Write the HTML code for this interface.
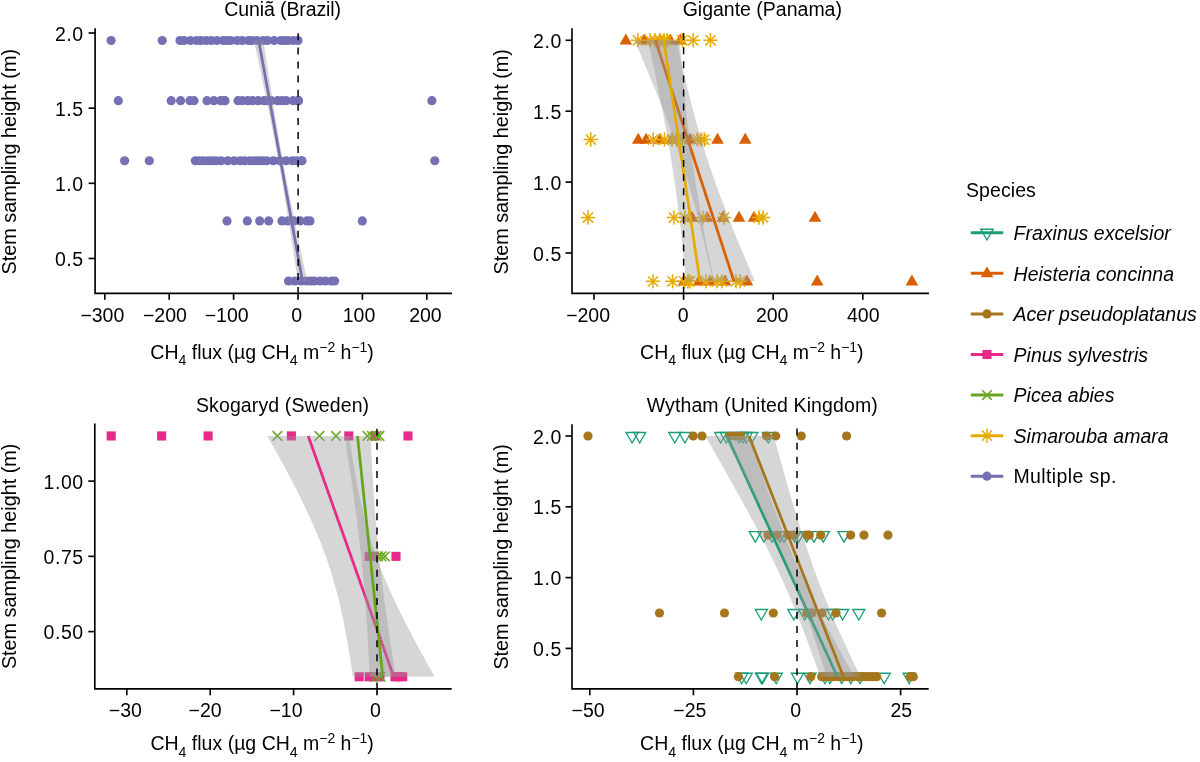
<!DOCTYPE html>
<html><head><meta charset="utf-8"><style>
html,body{margin:0;padding:0;background:#fff;}
svg{display:block;}
text{font-family:"Liberation Sans", sans-serif;font-size:19.5px;fill:#000;}
</style></head><body>
<svg width="1200" height="762" viewBox="0 0 1200 762">
<rect width="1200" height="762" fill="#fff"/>
<g style="opacity:0.999">
<circle cx="111.1" cy="40.52" r="4.6" fill="#7570B3"/><circle cx="162.2" cy="40.52" r="4.6" fill="#7570B3"/><circle cx="180" cy="40.52" r="4.6" fill="#7570B3"/><circle cx="183.97" cy="40.52" r="4.6" fill="#7570B3"/><circle cx="190.44" cy="40.52" r="4.6" fill="#7570B3"/><circle cx="196.61" cy="40.52" r="4.6" fill="#7570B3"/><circle cx="201" cy="40.52" r="4.6" fill="#7570B3"/><circle cx="206.24" cy="40.52" r="4.6" fill="#7570B3"/><circle cx="211.31" cy="40.52" r="4.6" fill="#7570B3"/><circle cx="217.09" cy="40.52" r="4.6" fill="#7570B3"/><circle cx="223.35" cy="40.52" r="4.6" fill="#7570B3"/><circle cx="227.18" cy="40.52" r="4.6" fill="#7570B3"/><circle cx="230.78" cy="40.52" r="4.6" fill="#7570B3"/><circle cx="237.2" cy="40.52" r="4.6" fill="#7570B3"/><circle cx="242.22" cy="40.52" r="4.6" fill="#7570B3"/><circle cx="248.39" cy="40.52" r="4.6" fill="#7570B3"/><circle cx="251.89" cy="40.52" r="4.6" fill="#7570B3"/><circle cx="256.95" cy="40.52" r="4.6" fill="#7570B3"/><circle cx="262.98" cy="40.52" r="4.6" fill="#7570B3"/><circle cx="267.28" cy="40.52" r="4.6" fill="#7570B3"/><circle cx="274.09" cy="40.52" r="4.6" fill="#7570B3"/><circle cx="280.74" cy="40.52" r="4.6" fill="#7570B3"/><circle cx="284.35" cy="40.52" r="4.6" fill="#7570B3"/><circle cx="287.94" cy="40.52" r="4.6" fill="#7570B3"/><circle cx="293.33" cy="40.52" r="4.6" fill="#7570B3"/><circle cx="298" cy="40.52" r="4.6" fill="#7570B3"/><circle cx="118.3" cy="100.64" r="4.6" fill="#7570B3"/><circle cx="171.2" cy="100.64" r="4.6" fill="#7570B3"/><circle cx="180.6" cy="100.64" r="4.6" fill="#7570B3"/><circle cx="190" cy="100.64" r="4.6" fill="#7570B3"/><circle cx="194" cy="100.64" r="4.6" fill="#7570B3"/><circle cx="207" cy="100.64" r="4.6" fill="#7570B3"/><circle cx="213.85" cy="100.64" r="4.6" fill="#7570B3"/><circle cx="220.66" cy="100.64" r="4.6" fill="#7570B3"/><circle cx="224.36" cy="100.64" r="4.6" fill="#7570B3"/><circle cx="225" cy="100.64" r="4.6" fill="#7570B3"/><circle cx="238" cy="100.64" r="4.6" fill="#7570B3"/><circle cx="242.33" cy="100.64" r="4.6" fill="#7570B3"/><circle cx="247.74" cy="100.64" r="4.6" fill="#7570B3"/><circle cx="252.53" cy="100.64" r="4.6" fill="#7570B3"/><circle cx="258.15" cy="100.64" r="4.6" fill="#7570B3"/><circle cx="263.84" cy="100.64" r="4.6" fill="#7570B3"/><circle cx="267.57" cy="100.64" r="4.6" fill="#7570B3"/><circle cx="271.11" cy="100.64" r="4.6" fill="#7570B3"/><circle cx="277.54" cy="100.64" r="4.6" fill="#7570B3"/><circle cx="281.95" cy="100.64" r="4.6" fill="#7570B3"/><circle cx="286.27" cy="100.64" r="4.6" fill="#7570B3"/><circle cx="293.26" cy="100.64" r="4.6" fill="#7570B3"/><circle cx="298.4" cy="100.64" r="4.6" fill="#7570B3"/><circle cx="298.5" cy="100.64" r="4.6" fill="#7570B3"/><circle cx="431.9" cy="100.64" r="4.6" fill="#7570B3"/><circle cx="124.6" cy="160.76" r="4.6" fill="#7570B3"/><circle cx="149.3" cy="160.76" r="4.6" fill="#7570B3"/><circle cx="195.3" cy="160.76" r="4.6" fill="#7570B3"/><circle cx="199.63" cy="160.76" r="4.6" fill="#7570B3"/><circle cx="203.49" cy="160.76" r="4.6" fill="#7570B3"/><circle cx="208.37" cy="160.76" r="4.6" fill="#7570B3"/><circle cx="212.42" cy="160.76" r="4.6" fill="#7570B3"/><circle cx="216.15" cy="160.76" r="4.6" fill="#7570B3"/><circle cx="221.05" cy="160.76" r="4.6" fill="#7570B3"/><circle cx="227.77" cy="160.76" r="4.6" fill="#7570B3"/><circle cx="234.07" cy="160.76" r="4.6" fill="#7570B3"/><circle cx="240.25" cy="160.76" r="4.6" fill="#7570B3"/><circle cx="244.52" cy="160.76" r="4.6" fill="#7570B3"/><circle cx="249.9" cy="160.76" r="4.6" fill="#7570B3"/><circle cx="254.37" cy="160.76" r="4.6" fill="#7570B3"/><circle cx="258.47" cy="160.76" r="4.6" fill="#7570B3"/><circle cx="262.35" cy="160.76" r="4.6" fill="#7570B3"/><circle cx="266.6" cy="160.76" r="4.6" fill="#7570B3"/><circle cx="273.34" cy="160.76" r="4.6" fill="#7570B3"/><circle cx="279.74" cy="160.76" r="4.6" fill="#7570B3"/><circle cx="286.07" cy="160.76" r="4.6" fill="#7570B3"/><circle cx="292.37" cy="160.76" r="4.6" fill="#7570B3"/><circle cx="296.55" cy="160.76" r="4.6" fill="#7570B3"/><circle cx="301.13" cy="160.76" r="4.6" fill="#7570B3"/><circle cx="302" cy="160.76" r="4.6" fill="#7570B3"/><circle cx="434.8" cy="160.76" r="4.6" fill="#7570B3"/><circle cx="227" cy="220.88" r="4.6" fill="#7570B3"/><circle cx="247.3" cy="220.88" r="4.6" fill="#7570B3"/><circle cx="259.7" cy="220.88" r="4.6" fill="#7570B3"/><circle cx="268.7" cy="220.88" r="4.6" fill="#7570B3"/><circle cx="282" cy="220.88" r="4.6" fill="#7570B3"/><circle cx="287.68" cy="220.88" r="4.6" fill="#7570B3"/><circle cx="293.78" cy="220.88" r="4.6" fill="#7570B3"/><circle cx="300.06" cy="220.88" r="4.6" fill="#7570B3"/><circle cx="306.86" cy="220.88" r="4.6" fill="#7570B3"/><circle cx="310" cy="220.88" r="4.6" fill="#7570B3"/><circle cx="362.3" cy="220.88" r="4.6" fill="#7570B3"/><circle cx="288.5" cy="281" r="4.6" fill="#7570B3"/><circle cx="294.78" cy="281" r="4.6" fill="#7570B3"/><circle cx="301.15" cy="281" r="4.6" fill="#7570B3"/><circle cx="306.35" cy="281" r="4.6" fill="#7570B3"/><circle cx="310.77" cy="281" r="4.6" fill="#7570B3"/><circle cx="314.27" cy="281" r="4.6" fill="#7570B3"/><circle cx="320.09" cy="281" r="4.6" fill="#7570B3"/><circle cx="325.23" cy="281" r="4.6" fill="#7570B3"/><circle cx="331.39" cy="281" r="4.6" fill="#7570B3"/><circle cx="334.6" cy="281" r="4.6" fill="#7570B3"/><path d="M253.98 40.52L254.83 44.52L255.68 48.53L256.53 52.54L257.38 56.55L258.23 60.56L259.07 64.56L259.92 68.57L260.76 72.58L261.6 76.59L262.44 80.59L263.28 84.6L264.11 88.61L264.94 92.62L265.77 96.63L266.6 100.64L267.42 104.64L268.24 108.65L269.05 112.66L269.86 116.67L270.67 120.68L271.47 124.68L272.26 128.69L273.05 132.7L273.83 136.71L274.61 140.72L275.38 144.72L276.14 148.73L276.89 152.74L277.63 156.75L278.36 160.76L279.09 164.76L279.81 168.77L280.52 172.78L281.22 176.79L281.91 180.8L282.59 184.8L283.27 188.81L283.94 192.82L284.61 196.83L285.27 200.84L285.92 204.84L286.57 208.85L287.22 212.86L287.86 216.87L288.5 220.88L289.13 224.88L289.76 228.89L290.39 232.9L291.02 236.91L291.64 240.92L292.26 244.92L292.88 248.93L293.5 252.94L294.11 256.95L294.73 260.96L295.34 264.96L295.95 268.97L296.56 272.98L297.17 276.99L297.78 281L307.22 281L306.37 276.99L305.52 272.98L304.67 268.97L303.82 264.96L302.97 260.96L302.13 256.95L301.28 252.94L300.44 248.93L299.6 244.92L298.76 240.92L297.92 236.91L297.09 232.9L296.26 228.89L295.43 224.88L294.6 220.88L293.78 216.87L292.96 212.86L292.15 208.85L291.34 204.84L290.53 200.84L289.73 196.83L288.94 192.82L288.15 188.81L287.37 184.8L286.59 180.8L285.82 176.79L285.06 172.78L284.31 168.77L283.57 164.76L282.84 160.76L282.11 156.75L281.39 152.74L280.68 148.73L279.98 144.72L279.29 140.72L278.61 136.71L277.93 132.7L277.26 128.69L276.59 124.68L275.93 120.68L275.28 116.67L274.63 112.66L273.98 108.65L273.34 104.64L272.7 100.64L272.07 96.63L271.44 92.62L270.81 88.61L270.18 84.6L269.56 80.59L268.94 76.59L268.32 72.58L267.7 68.57L267.09 64.56L266.47 60.56L265.86 56.55L265.25 52.54L264.64 48.53L264.03 44.52L263.42 40.52Z" fill="#999999" fill-opacity="0.4"/><line x1="258.7" y1="40.52" x2="302.5" y2="281" stroke="#7570B3" stroke-width="2.75"/><line x1="298.1" y1="28.5" x2="298.1" y2="293.3" stroke="#000" stroke-width="1.5" stroke-dasharray="7 7.1" stroke-dashoffset="9.3"/><path d="M95.1 28.3V293.3H452" fill="none" stroke="#000" stroke-width="1.65"/><line x1="88.6" y1="33" x2="95.1" y2="33" stroke="#000" stroke-width="1.65"/><text x="83.8" y="40.5" text-anchor="end" style="letter-spacing:0.6px">2.0</text><line x1="88.6" y1="108.15" x2="95.1" y2="108.15" stroke="#000" stroke-width="1.65"/><text x="83.8" y="115.65" text-anchor="end" style="letter-spacing:0.6px">1.5</text><line x1="88.6" y1="183.3" x2="95.1" y2="183.3" stroke="#000" stroke-width="1.65"/><text x="83.8" y="190.8" text-anchor="end" style="letter-spacing:0.6px">1.0</text><line x1="88.6" y1="258.45" x2="95.1" y2="258.45" stroke="#000" stroke-width="1.65"/><text x="83.8" y="265.95" text-anchor="end" style="letter-spacing:0.6px">0.5</text><line x1="104.8" y1="293.3" x2="104.8" y2="299.8" stroke="#000" stroke-width="1.65"/><text x="102.35" y="321.7" text-anchor="middle">−300</text><line x1="169.2" y1="293.3" x2="169.2" y2="299.8" stroke="#000" stroke-width="1.65"/><text x="164.9" y="321.7" text-anchor="middle">−200</text><line x1="233.6" y1="293.3" x2="233.6" y2="299.8" stroke="#000" stroke-width="1.65"/><text x="226.7" y="321.7" text-anchor="middle">−100</text><line x1="298" y1="293.3" x2="298" y2="299.8" stroke="#000" stroke-width="1.65"/><text x="296.8" y="321.7" text-anchor="middle">0</text><line x1="362.4" y1="293.3" x2="362.4" y2="299.8" stroke="#000" stroke-width="1.65"/><text x="359" y="321.7" text-anchor="middle">100</text><line x1="426.8" y1="293.3" x2="426.8" y2="299.8" stroke="#000" stroke-width="1.65"/><text x="425.45" y="321.7" text-anchor="middle">200</text><text x="150.3" y="358.5">CH<tspan font-size="14.2" dy="6.6">4</tspan><tspan dy="-6.6"> flux (µg CH</tspan><tspan font-size="14.2" dy="6.6">4</tspan><tspan dy="-6.6"> m</tspan><tspan font-size="13.9" dy="-7">−2</tspan><tspan dy="7"> h</tspan><tspan font-size="13.9" dy="-7">−1</tspan><tspan dy="7">)</tspan></text><text transform="translate(15.7 161.7) rotate(-90)" text-anchor="middle" style="font-size:19.8px">Stem sampling height (m)</text><text x="282.6" y="15.8" text-anchor="middle" style="letter-spacing:-0.1px">Cuniã (Brazil)</text><path d="M625.8 33.5L632.12 44.45L619.48 44.45Z" fill="#D95F02"/><path d="M644.4 33.5L650.72 44.45L638.08 44.45Z" fill="#D95F02"/><path d="M660 33.5L666.32 44.45L653.68 44.45Z" fill="#D95F02"/><path d="M670.4 33.5L676.72 44.45L664.08 44.45Z" fill="#D95F02"/><path d="M680.2 33.5L686.52 44.45L673.88 44.45Z" fill="#D95F02"/><path d="M638.25 132.76L644.57 143.71L631.93 143.71Z" fill="#D95F02"/><path d="M646.1 132.76L652.42 143.71L639.78 143.71Z" fill="#D95F02"/><path d="M660 132.76L666.32 143.71L653.68 143.71Z" fill="#D95F02"/><path d="M672 132.76L678.32 143.71L665.68 143.71Z" fill="#D95F02"/><path d="M690 132.76L696.32 143.71L683.68 143.71Z" fill="#D95F02"/><path d="M717.5 132.76L723.82 143.71L711.18 143.71Z" fill="#D95F02"/><path d="M745.25 132.76L751.57 143.71L738.93 143.71Z" fill="#D95F02"/><path d="M692 210.75L698.32 221.7L685.68 221.7Z" fill="#D95F02"/><path d="M707 210.75L713.32 221.7L700.68 221.7Z" fill="#D95F02"/><path d="M723 210.75L729.32 221.7L716.68 221.7Z" fill="#D95F02"/><path d="M739 210.75L745.32 221.7L732.68 221.7Z" fill="#D95F02"/><path d="M754 210.75L760.32 221.7L747.68 221.7Z" fill="#D95F02"/><path d="M815 210.75L821.32 221.7L808.68 221.7Z" fill="#D95F02"/><path d="M684 274.56L690.32 285.51L677.68 285.51Z" fill="#D95F02"/><path d="M699 274.56L705.32 285.51L692.68 285.51Z" fill="#D95F02"/><path d="M710 274.56L716.32 285.51L703.68 285.51Z" fill="#D95F02"/><path d="M725 274.56L731.32 285.51L718.68 285.51Z" fill="#D95F02"/><path d="M747 274.56L753.32 285.51L740.68 285.51Z" fill="#D95F02"/><path d="M817.2 274.56L823.52 285.51L810.88 285.51Z" fill="#D95F02"/><path d="M911.9 274.56L918.22 285.51L905.58 285.51Z" fill="#D95F02"/><path d="M630.7 40.3L645.1 40.3M637.9 33.1L637.9 47.5M632.81 35.21L642.99 45.39M632.81 45.39L642.99 35.21" stroke="#E6AB02" stroke-width="1.5" fill="none"/><path d="M642.8 40.3L657.2 40.3M650 33.1L650 47.5M644.91 35.21L655.09 45.39M644.91 45.39L655.09 35.21" stroke="#E6AB02" stroke-width="1.5" fill="none"/><path d="M647.8 40.3L662.2 40.3M655 33.1L655 47.5M649.91 35.21L660.09 45.39M649.91 45.39L660.09 35.21" stroke="#E6AB02" stroke-width="1.5" fill="none"/><path d="M652.8 40.3L667.2 40.3M660 33.1L660 47.5M654.91 35.21L665.09 45.39M654.91 45.39L665.09 35.21" stroke="#E6AB02" stroke-width="1.5" fill="none"/><path d="M656.8 40.3L671.2 40.3M664 33.1L664 47.5M658.91 35.21L669.09 45.39M658.91 45.39L669.09 35.21" stroke="#E6AB02" stroke-width="1.5" fill="none"/><path d="M659.8 40.3L674.2 40.3M667 33.1L667 47.5M661.91 35.21L672.09 45.39M661.91 45.39L672.09 35.21" stroke="#E6AB02" stroke-width="1.5" fill="none"/><path d="M675.1 40.3L689.5 40.3M682.3 33.1L682.3 47.5M677.21 35.21L687.39 45.39M677.21 45.39L687.39 35.21" stroke="#E6AB02" stroke-width="1.5" fill="none"/><path d="M686 40.3L700.4 40.3M693.2 33.1L693.2 47.5M688.11 35.21L698.29 45.39M688.11 45.39L698.29 35.21" stroke="#E6AB02" stroke-width="1.5" fill="none"/><path d="M703.3 40.3L717.7 40.3M710.5 33.1L710.5 47.5M705.41 35.21L715.59 45.39M705.41 45.39L715.59 35.21" stroke="#E6AB02" stroke-width="1.5" fill="none"/><path d="M583.55 139.56L597.95 139.56M590.75 132.36L590.75 146.76M585.66 134.47L595.84 144.65M585.66 144.65L595.84 134.47" stroke="#E6AB02" stroke-width="1.5" fill="none"/><path d="M646.05 139.56L660.45 139.56M653.25 132.36L653.25 146.76M648.16 134.47L658.34 144.65M648.16 144.65L658.34 134.47" stroke="#E6AB02" stroke-width="1.5" fill="none"/><path d="M657.3 139.56L671.7 139.56M664.5 132.36L664.5 146.76M659.41 134.47L669.59 144.65M659.41 144.65L669.59 134.47" stroke="#E6AB02" stroke-width="1.5" fill="none"/><path d="M664.8 139.56L679.2 139.56M672 132.36L672 146.76M666.91 134.47L677.09 144.65M666.91 144.65L677.09 134.47" stroke="#E6AB02" stroke-width="1.5" fill="none"/><path d="M669.3 139.56L683.7 139.56M676.5 132.36L676.5 146.76M671.41 134.47L681.59 144.65M671.41 144.65L681.59 134.47" stroke="#E6AB02" stroke-width="1.5" fill="none"/><path d="M675.3 139.56L689.7 139.56M682.5 132.36L682.5 146.76M677.41 134.47L687.59 144.65M677.41 144.65L687.59 134.47" stroke="#E6AB02" stroke-width="1.5" fill="none"/><path d="M690.3 139.56L704.7 139.56M697.5 132.36L697.5 146.76M692.41 134.47L702.59 144.65M692.41 144.65L702.59 134.47" stroke="#E6AB02" stroke-width="1.5" fill="none"/><path d="M694.05 139.56L708.45 139.56M701.25 132.36L701.25 146.76M696.16 134.47L706.34 144.65M696.16 144.65L706.34 134.47" stroke="#E6AB02" stroke-width="1.5" fill="none"/><path d="M697.05 139.56L711.45 139.56M704.25 132.36L704.25 146.76M699.16 134.47L709.34 144.65M699.16 144.65L709.34 134.47" stroke="#E6AB02" stroke-width="1.5" fill="none"/><path d="M580.8 217.55L595.2 217.55M588 210.35L588 224.75M582.91 212.46L593.09 222.64M582.91 222.64L593.09 212.46" stroke="#E6AB02" stroke-width="1.5" fill="none"/><path d="M666.8 217.55L681.2 217.55M674 210.35L674 224.75M668.91 212.46L679.09 222.64M668.91 222.64L679.09 212.46" stroke="#E6AB02" stroke-width="1.5" fill="none"/><path d="M677.8 217.55L692.2 217.55M685 210.35L685 224.75M679.91 212.46L690.09 222.64M679.91 222.64L690.09 212.46" stroke="#E6AB02" stroke-width="1.5" fill="none"/><path d="M695.8 217.55L710.2 217.55M703 210.35L703 224.75M697.91 212.46L708.09 222.64M697.91 222.64L708.09 212.46" stroke="#E6AB02" stroke-width="1.5" fill="none"/><path d="M716.8 217.55L731.2 217.55M724 210.35L724 224.75M718.91 212.46L729.09 222.64M718.91 222.64L729.09 212.46" stroke="#E6AB02" stroke-width="1.5" fill="none"/><path d="M751.8 217.55L766.2 217.55M759 210.35L759 224.75M753.91 212.46L764.09 222.64M753.91 222.64L764.09 212.46" stroke="#E6AB02" stroke-width="1.5" fill="none"/><path d="M755.8 217.55L770.2 217.55M763 210.35L763 224.75M757.91 212.46L768.09 222.64M757.91 222.64L768.09 212.46" stroke="#E6AB02" stroke-width="1.5" fill="none"/><path d="M645.8 281.36L660.2 281.36M653 274.16L653 288.56M647.91 276.27L658.09 286.45M647.91 286.45L658.09 276.27" stroke="#E6AB02" stroke-width="1.5" fill="none"/><path d="M665.3 281.36L679.7 281.36M672.5 274.16L672.5 288.56M667.41 276.27L677.59 286.45M667.41 286.45L677.59 276.27" stroke="#E6AB02" stroke-width="1.5" fill="none"/><path d="M676.8 281.36L691.2 281.36M684 274.16L684 288.56M678.91 276.27L689.09 286.45M678.91 286.45L689.09 276.27" stroke="#E6AB02" stroke-width="1.5" fill="none"/><path d="M680.8 281.36L695.2 281.36M688 274.16L688 288.56M682.91 276.27L693.09 286.45M682.91 286.45L693.09 276.27" stroke="#E6AB02" stroke-width="1.5" fill="none"/><path d="M682.8 281.36L697.2 281.36M690 274.16L690 288.56M684.91 276.27L695.09 286.45M684.91 286.45L695.09 276.27" stroke="#E6AB02" stroke-width="1.5" fill="none"/><path d="M698.8 281.36L713.2 281.36M706 274.16L706 288.56M700.91 276.27L711.09 286.45M700.91 286.45L711.09 276.27" stroke="#E6AB02" stroke-width="1.5" fill="none"/><path d="M709.8 281.36L724.2 281.36M717 274.16L717 288.56M711.91 276.27L722.09 286.45M711.91 286.45L722.09 276.27" stroke="#E6AB02" stroke-width="1.5" fill="none"/><path d="M714.8 281.36L729.2 281.36M722 274.16L722 288.56M716.91 276.27L727.09 286.45M716.91 286.45L727.09 276.27" stroke="#E6AB02" stroke-width="1.5" fill="none"/><path d="M728.8 281.36L743.2 281.36M736 274.16L736 288.56M730.91 276.27L741.09 286.45M730.91 286.45L741.09 276.27" stroke="#E6AB02" stroke-width="1.5" fill="none"/><path d="M732.8 281.36L747.2 281.36M740 274.16L740 288.56M734.91 276.27L745.09 286.45M734.91 286.45L745.09 276.27" stroke="#E6AB02" stroke-width="1.5" fill="none"/><path d="M634.5 40.3L636.22 44.32L637.94 48.34L639.65 52.35L641.36 56.37L643.06 60.39L644.75 64.41L646.43 68.42L648.1 72.44L649.77 76.46L651.43 80.48L653.07 84.49L654.71 88.51L656.33 92.53L657.94 96.55L659.54 100.56L661.12 104.58L662.69 108.6L664.25 112.62L665.79 116.64L667.31 120.65L668.81 124.67L670.3 128.69L671.77 132.71L673.21 136.72L674.64 140.74L676.05 144.76L677.44 148.78L678.8 152.79L680.14 156.81L681.46 160.83L682.76 164.85L684.04 168.87L685.3 172.88L686.53 176.9L687.74 180.92L688.93 184.94L690.11 188.95L691.26 192.97L692.39 196.99L693.51 201.01L694.61 205.02L695.69 209.04L696.75 213.06L697.8 217.08L698.84 221.1L699.86 225.11L700.87 229.13L701.87 233.15L702.85 237.17L703.83 241.18L704.79 245.2L705.74 249.22L706.69 253.24L707.63 257.25L708.56 261.27L709.48 265.29L710.39 269.31L711.3 273.32L712.2 277.34L713.1 281.36L754.9 281.36L753.18 277.34L751.46 273.32L749.75 269.31L748.04 265.29L746.34 261.27L744.65 257.25L742.97 253.24L741.3 249.22L739.63 245.2L737.97 241.18L736.33 237.17L734.69 233.15L733.07 229.13L731.46 225.11L729.86 221.1L728.28 217.08L726.71 213.06L725.15 209.04L723.61 205.02L722.09 201.01L720.59 196.99L719.1 192.97L717.63 188.95L716.19 184.94L714.76 180.92L713.35 176.9L711.96 172.88L710.6 168.87L709.26 164.85L707.94 160.83L706.64 156.81L705.36 152.79L704.1 148.78L702.87 144.76L701.66 140.74L700.47 136.72L699.29 132.71L698.14 128.69L697.01 124.67L695.89 120.65L694.79 116.64L693.71 112.62L692.65 108.6L691.6 104.58L690.56 100.56L689.54 96.55L688.53 92.53L687.53 88.51L686.55 84.49L685.57 80.48L684.61 76.46L683.66 72.44L682.71 68.42L681.77 64.41L680.84 60.39L679.92 56.37L679.01 52.35L678.1 48.34L677.2 44.32L676.3 40.3Z" fill="#999999" fill-opacity="0.4"/><line x1="655.4" y1="40.3" x2="734" y2="281.36" stroke="#D95F02" stroke-width="2.75"/><path d="M647.9 40.3L648.77 44.32L649.64 48.34L650.5 52.35L651.36 56.37L652.22 60.39L653.07 64.41L653.91 68.42L654.76 72.44L655.59 76.46L656.42 80.48L657.25 84.49L658.06 88.51L658.88 92.53L659.68 96.55L660.48 100.56L661.27 104.58L662.06 108.6L662.83 112.62L663.6 116.64L664.36 120.65L665.11 124.67L665.84 128.69L666.57 132.71L667.29 136.72L668 140.74L668.7 144.76L669.39 148.78L670.07 152.79L670.73 156.81L671.38 160.83L672.02 164.85L672.65 168.87L673.27 172.88L673.87 176.9L674.47 180.92L675.05 184.94L675.61 188.95L676.17 192.97L676.72 196.99L677.25 201.01L677.77 205.02L678.28 209.04L678.78 213.06L679.27 217.08L679.75 221.1L680.22 225.11L680.68 229.13L681.13 233.15L681.57 237.17L682 241.18L682.43 245.2L682.85 249.22L683.26 253.24L683.66 257.25L684.06 261.27L684.45 265.29L684.83 269.31L685.21 273.32L685.58 277.34L685.95 281.36L714.05 281.36L713.21 277.34L712.37 273.32L711.54 269.31L710.72 265.29L709.9 261.27L709.09 257.25L708.29 253.24L707.49 249.22L706.7 245.2L705.91 241.18L705.14 237.17L704.37 233.15L703.61 229.13L702.87 225.11L702.13 221.1L701.4 217.08L700.68 213.06L699.97 209.04L699.27 205.02L698.59 201.01L697.91 196.99L697.25 192.97L696.59 188.95L695.95 184.94L695.33 180.92L694.71 176.9L694.11 172.88L693.51 168.87L692.93 164.85L692.37 160.83L691.81 156.81L691.27 152.79L690.74 148.78L690.21 144.76L689.7 140.74L689.21 136.72L688.72 132.71L688.24 128.69L687.77 124.67L687.31 120.65L686.86 116.64L686.42 112.62L685.99 108.6L685.56 104.58L685.14 100.56L684.73 96.55L684.33 92.53L683.94 88.51L683.55 84.49L683.16 80.48L682.78 76.46L682.41 72.44L682.04 68.42L681.68 64.41L681.32 60.39L680.97 56.37L680.62 52.35L680.28 48.34L679.94 44.32L679.6 40.3Z" fill="#999999" fill-opacity="0.4"/><line x1="663.75" y1="40.3" x2="700" y2="281.36" stroke="#E6AB02" stroke-width="2.75"/><line x1="683.6" y1="28.3" x2="683.6" y2="293.3" stroke="#000" stroke-width="1.5" stroke-dasharray="7 7.1" stroke-dashoffset="9.3"/><path d="M572 28.3V293.3H929" fill="none" stroke="#000" stroke-width="1.65"/><line x1="565.5" y1="40.3" x2="572" y2="40.3" stroke="#000" stroke-width="1.65"/><text x="561.9" y="47.8" text-anchor="end" style="letter-spacing:0.6px">2.0</text><line x1="565.5" y1="111.2" x2="572" y2="111.2" stroke="#000" stroke-width="1.65"/><text x="561.9" y="118.7" text-anchor="end" style="letter-spacing:0.6px">1.5</text><line x1="565.5" y1="182.1" x2="572" y2="182.1" stroke="#000" stroke-width="1.65"/><text x="561.9" y="189.6" text-anchor="end" style="letter-spacing:0.6px">1.0</text><line x1="565.5" y1="253" x2="572" y2="253" stroke="#000" stroke-width="1.65"/><text x="561.9" y="260.5" text-anchor="end" style="letter-spacing:0.6px">0.5</text><line x1="594" y1="293.3" x2="594" y2="299.8" stroke="#000" stroke-width="1.65"/><text x="588.1" y="321.7" text-anchor="middle">−200</text><line x1="683.6" y1="293.3" x2="683.6" y2="299.8" stroke="#000" stroke-width="1.65"/><text x="683.1" y="321.7" text-anchor="middle">0</text><line x1="773.2" y1="293.3" x2="773.2" y2="299.8" stroke="#000" stroke-width="1.65"/><text x="772.2" y="321.7" text-anchor="middle">200</text><line x1="862.8" y1="293.3" x2="862.8" y2="299.8" stroke="#000" stroke-width="1.65"/><text x="863.3" y="321.7" text-anchor="middle">400</text><text x="640.1" y="358.7">CH<tspan font-size="14.2" dy="6.6">4</tspan><tspan dy="-6.6"> flux (µg CH</tspan><tspan font-size="14.2" dy="6.6">4</tspan><tspan dy="-6.6"> m</tspan><tspan font-size="13.9" dy="-7">−2</tspan><tspan dy="7"> h</tspan><tspan font-size="13.9" dy="-7">−1</tspan><tspan dy="7">)</tspan></text><text transform="translate(507.6 161.8) rotate(-90)" text-anchor="middle" style="font-size:19.8px">Stem sampling height (m)</text><text x="762.3" y="15.8" text-anchor="middle">Gigante (Panama)</text><rect x="106.65" y="431.4" width="9.1" height="9.1" fill="#E7298A"/><rect x="157.05" y="431.4" width="9.1" height="9.1" fill="#E7298A"/><rect x="203.55" y="431.4" width="9.1" height="9.1" fill="#E7298A"/><rect x="286.85" y="431.4" width="9.1" height="9.1" fill="#E7298A"/><rect x="344.25" y="431.4" width="9.1" height="9.1" fill="#E7298A"/><rect x="370.35" y="431.4" width="9.1" height="9.1" fill="#E7298A"/><rect x="403.45" y="431.4" width="9.1" height="9.1" fill="#E7298A"/><rect x="364.65" y="551.8" width="9.1" height="9.1" fill="#E7298A"/><rect x="369.45" y="551.8" width="9.1" height="9.1" fill="#E7298A"/><rect x="391.45" y="551.8" width="9.1" height="9.1" fill="#E7298A"/><rect x="354.65" y="672.2" width="9.1" height="9.1" fill="#E7298A"/><rect x="364.65" y="672.2" width="9.1" height="9.1" fill="#E7298A"/><rect x="369.45" y="672.2" width="9.1" height="9.1" fill="#E7298A"/><rect x="375.45" y="672.2" width="9.1" height="9.1" fill="#E7298A"/><rect x="390.45" y="672.2" width="9.1" height="9.1" fill="#E7298A"/><rect x="393.65" y="672.2" width="9.1" height="9.1" fill="#E7298A"/><rect x="398.15" y="672.2" width="9.1" height="9.1" fill="#E7298A"/><path d="M272.6 431.15L282.2 440.75M272.6 440.75L282.2 431.15" stroke="#66A61E" stroke-width="1.5" fill="none"/><path d="M314.6 431.15L324.2 440.75M314.6 440.75L324.2 431.15" stroke="#66A61E" stroke-width="1.5" fill="none"/><path d="M331.2 431.15L340.8 440.75M331.2 440.75L340.8 431.15" stroke="#66A61E" stroke-width="1.5" fill="none"/><path d="M362.7 431.15L372.3 440.75M362.7 440.75L372.3 431.15" stroke="#66A61E" stroke-width="1.5" fill="none"/><path d="M367.2 431.15L376.8 440.75M367.2 440.75L376.8 431.15" stroke="#66A61E" stroke-width="1.5" fill="none"/><path d="M371.9 431.15L381.5 440.75M371.9 440.75L381.5 431.15" stroke="#66A61E" stroke-width="1.5" fill="none"/><path d="M374.7 431.15L384.3 440.75M374.7 440.75L384.3 431.15" stroke="#66A61E" stroke-width="1.5" fill="none"/><path d="M373.2 551.55L382.8 561.15M373.2 561.15L382.8 551.55" stroke="#66A61E" stroke-width="1.5" fill="none"/><path d="M376.7 551.55L386.3 561.15M376.7 561.15L386.3 551.55" stroke="#66A61E" stroke-width="1.5" fill="none"/><path d="M380.1 551.55L389.7 561.15M380.1 561.15L389.7 551.55" stroke="#66A61E" stroke-width="1.5" fill="none"/><path d="M371.2 671.95L380.8 681.55M371.2 681.55L380.8 671.95" stroke="#66A61E" stroke-width="1.5" fill="none"/><path d="M375.6 671.95L385.2 681.55M375.6 681.55L385.2 671.95" stroke="#66A61E" stroke-width="1.5" fill="none"/><path d="M267.29 435.95L269.56 439.96L271.81 443.98L274.06 447.99L276.29 452L278.5 456.02L280.71 460.03L282.89 464.04L285.06 468.06L287.21 472.07L289.34 476.08L291.46 480.1L293.55 484.11L295.62 488.12L297.66 492.14L299.68 496.15L301.67 500.16L303.63 504.18L305.56 508.19L307.46 512.2L309.32 516.22L311.15 520.23L312.95 524.24L314.7 528.26L316.41 532.27L318.08 536.28L319.71 540.3L321.3 544.31L322.84 548.32L324.33 552.34L325.78 556.35L327.18 560.36L328.54 564.38L329.86 568.39L331.12 572.4L332.35 576.42L333.53 580.43L334.67 584.44L335.77 588.46L336.83 592.47L337.86 596.48L338.85 600.5L339.8 604.51L340.72 608.52L341.61 612.54L342.48 616.55L343.31 620.56L344.12 624.58L344.91 628.59L345.67 632.6L346.41 636.62L347.13 640.63L347.83 644.64L348.52 648.66L349.19 652.67L349.84 656.68L350.47 660.7L351.1 664.71L351.71 668.72L352.31 672.74L352.89 676.75L434.71 676.75L432.44 672.74L430.19 668.72L427.94 664.71L425.71 660.7L423.5 656.68L421.29 652.67L419.11 648.66L416.94 644.64L414.79 640.63L412.66 636.62L410.54 632.6L408.45 628.59L406.38 624.58L404.34 620.56L402.32 616.55L400.33 612.54L398.37 608.52L396.44 604.51L394.54 600.5L392.68 596.48L390.85 592.47L389.05 588.46L387.3 584.44L385.59 580.43L383.92 576.42L382.29 572.4L380.7 568.39L379.16 564.38L377.67 560.36L376.22 556.35L374.82 552.34L373.46 548.32L372.14 544.31L370.88 540.3L369.65 536.28L368.47 532.27L367.33 528.26L366.23 524.24L365.17 520.23L364.14 516.22L363.15 512.2L362.2 508.19L361.28 504.18L360.39 500.16L359.52 496.15L358.69 492.14L357.88 488.12L357.09 484.11L356.33 480.1L355.59 476.08L354.87 472.07L354.17 468.06L353.48 464.04L352.81 460.03L352.16 456.02L351.53 452L350.9 447.99L350.29 443.98L349.69 439.96L349.11 435.95Z" fill="#999999" fill-opacity="0.4"/><line x1="308.2" y1="435.95" x2="393.8" y2="676.75" stroke="#E7298A" stroke-width="2.75"/><path d="M344.5 435.95L345.15 439.96L345.79 443.98L346.42 447.99L347.06 452L347.69 456.02L348.31 460.03L348.93 464.04L349.55 468.06L350.15 472.07L350.76 476.08L351.35 480.1L351.94 484.11L352.53 488.12L353.11 492.14L353.68 496.15L354.24 500.16L354.79 504.18L355.34 508.19L355.88 512.2L356.41 516.22L356.93 520.23L357.44 524.24L357.94 528.26L358.43 532.27L358.91 536.28L359.38 540.3L359.84 544.31L360.28 548.32L360.72 552.34L361.15 556.35L361.57 560.36L361.97 564.38L362.37 568.39L362.75 572.4L363.12 576.42L363.49 580.43L363.84 584.44L364.18 588.46L364.52 592.47L364.84 596.48L365.15 600.5L365.46 604.51L365.76 608.52L366.05 612.54L366.33 616.55L366.6 620.56L366.87 624.58L367.12 628.59L367.38 632.6L367.62 636.62L367.86 640.63L368.1 644.64L368.33 648.66L368.55 652.67L368.77 656.68L368.98 660.7L369.19 664.71L369.4 668.72L369.6 672.74L369.8 676.75L395.8 676.75L395.15 672.74L394.51 668.72L393.88 664.71L393.24 660.7L392.61 656.68L391.99 652.67L391.37 648.66L390.75 644.64L390.15 640.63L389.54 636.62L388.95 632.6L388.36 628.59L387.77 624.58L387.19 620.56L386.62 616.55L386.06 612.54L385.51 608.52L384.96 604.51L384.42 600.5L383.89 596.48L383.37 592.47L382.86 588.46L382.36 584.44L381.87 580.43L381.39 576.42L380.92 572.4L380.46 568.39L380.02 564.38L379.58 560.36L379.15 556.35L378.73 552.34L378.33 548.32L377.93 544.31L377.55 540.3L377.18 536.28L376.81 532.27L376.46 528.26L376.12 524.24L375.78 520.23L375.46 516.22L375.15 512.2L374.84 508.19L374.54 504.18L374.25 500.16L373.97 496.15L373.7 492.14L373.43 488.12L373.18 484.11L372.92 480.1L372.68 476.08L372.44 472.07L372.2 468.06L371.97 464.04L371.75 460.03L371.53 456.02L371.32 452L371.11 447.99L370.9 443.98L370.7 439.96L370.5 435.95Z" fill="#999999" fill-opacity="0.4"/><line x1="357.5" y1="435.95" x2="382.8" y2="676.75" stroke="#66A61E" stroke-width="2.75"/><line x1="377" y1="423.6" x2="377" y2="688.8" stroke="#000" stroke-width="1.5" stroke-dasharray="7 7.1" stroke-dashoffset="9.0"/><path d="M94.8 423.6V688.8H451.7" fill="none" stroke="#000" stroke-width="1.65"/><line x1="88.3" y1="481.1" x2="94.8" y2="481.1" stroke="#000" stroke-width="1.65"/><text x="83.8" y="488.6" text-anchor="end" style="letter-spacing:0.6px">1.00</text><line x1="88.3" y1="556.35" x2="94.8" y2="556.35" stroke="#000" stroke-width="1.65"/><text x="83.8" y="563.85" text-anchor="end" style="letter-spacing:0.6px">0.75</text><line x1="88.3" y1="631.6" x2="94.8" y2="631.6" stroke="#000" stroke-width="1.65"/><text x="83.8" y="639.1" text-anchor="end" style="letter-spacing:0.6px">0.50</text><line x1="126.8" y1="688.8" x2="126.8" y2="695.3" stroke="#000" stroke-width="1.65"/><text x="125.3" y="717" text-anchor="middle">−30</text><line x1="210.2" y1="688.8" x2="210.2" y2="695.3" stroke="#000" stroke-width="1.65"/><text x="205.05" y="717" text-anchor="middle">−20</text><line x1="293.6" y1="688.8" x2="293.6" y2="695.3" stroke="#000" stroke-width="1.65"/><text x="285.95" y="717" text-anchor="middle">−10</text><line x1="377" y1="688.8" x2="377" y2="695.3" stroke="#000" stroke-width="1.65"/><text x="375.4" y="717" text-anchor="middle">0</text><text x="150.4" y="750">CH<tspan font-size="14.2" dy="6.6">4</tspan><tspan dy="-6.6"> flux (µg CH</tspan><tspan font-size="14.2" dy="6.6">4</tspan><tspan dy="-6.6"> m</tspan><tspan font-size="13.9" dy="-7">−2</tspan><tspan dy="7"> h</tspan><tspan font-size="13.9" dy="-7">−1</tspan><tspan dy="7">)</tspan></text><text transform="translate(15.7 556.4) rotate(-90)" text-anchor="middle" style="font-size:19.8px">Stem sampling height (m)</text><text x="282.6" y="411.7" text-anchor="middle" style="letter-spacing:0.12px">Skogaryd (Sweden)</text><path d="M632.1 443L638.16 432.5L626.04 432.5Z" fill="none" stroke="#1B9E77" stroke-width="1.35" stroke-linejoin="miter"/><path d="M639.7 443L645.76 432.5L633.64 432.5Z" fill="none" stroke="#1B9E77" stroke-width="1.35" stroke-linejoin="miter"/><path d="M674.8 443L680.86 432.5L668.74 432.5Z" fill="none" stroke="#1B9E77" stroke-width="1.35" stroke-linejoin="miter"/><path d="M684.9 443L690.96 432.5L678.84 432.5Z" fill="none" stroke="#1B9E77" stroke-width="1.35" stroke-linejoin="miter"/><path d="M720.7 443L726.76 432.5L714.64 432.5Z" fill="none" stroke="#1B9E77" stroke-width="1.35" stroke-linejoin="miter"/><path d="M726.2 443L732.26 432.5L720.14 432.5Z" fill="none" stroke="#1B9E77" stroke-width="1.35" stroke-linejoin="miter"/><path d="M739 443L745.06 432.5L732.94 432.5Z" fill="none" stroke="#1B9E77" stroke-width="1.35" stroke-linejoin="miter"/><path d="M743 443L749.06 432.5L736.94 432.5Z" fill="none" stroke="#1B9E77" stroke-width="1.35" stroke-linejoin="miter"/><path d="M746.3 443L752.36 432.5L740.24 432.5Z" fill="none" stroke="#1B9E77" stroke-width="1.35" stroke-linejoin="miter"/><path d="M751.8 443L757.86 432.5L745.74 432.5Z" fill="none" stroke="#1B9E77" stroke-width="1.35" stroke-linejoin="miter"/><path d="M768.3 443L774.36 432.5L762.24 432.5Z" fill="none" stroke="#1B9E77" stroke-width="1.35" stroke-linejoin="miter"/><path d="M755.3 542.12L761.36 531.62L749.24 531.62Z" fill="none" stroke="#1B9E77" stroke-width="1.35" stroke-linejoin="miter"/><path d="M764 542.12L770.06 531.62L757.94 531.62Z" fill="none" stroke="#1B9E77" stroke-width="1.35" stroke-linejoin="miter"/><path d="M772 542.12L778.06 531.62L765.94 531.62Z" fill="none" stroke="#1B9E77" stroke-width="1.35" stroke-linejoin="miter"/><path d="M780 542.12L786.06 531.62L773.94 531.62Z" fill="none" stroke="#1B9E77" stroke-width="1.35" stroke-linejoin="miter"/><path d="M784 542.12L790.06 531.62L777.94 531.62Z" fill="none" stroke="#1B9E77" stroke-width="1.35" stroke-linejoin="miter"/><path d="M794.7 542.12L800.76 531.62L788.64 531.62Z" fill="none" stroke="#1B9E77" stroke-width="1.35" stroke-linejoin="miter"/><path d="M798.7 542.12L804.76 531.62L792.64 531.62Z" fill="none" stroke="#1B9E77" stroke-width="1.35" stroke-linejoin="miter"/><path d="M806.7 542.12L812.76 531.62L800.64 531.62Z" fill="none" stroke="#1B9E77" stroke-width="1.35" stroke-linejoin="miter"/><path d="M814 542.12L820.06 531.62L807.94 531.62Z" fill="none" stroke="#1B9E77" stroke-width="1.35" stroke-linejoin="miter"/><path d="M823.3 542.12L829.36 531.62L817.24 531.62Z" fill="none" stroke="#1B9E77" stroke-width="1.35" stroke-linejoin="miter"/><path d="M844 542.12L850.06 531.62L837.94 531.62Z" fill="none" stroke="#1B9E77" stroke-width="1.35" stroke-linejoin="miter"/><path d="M761.3 620L767.36 609.5L755.24 609.5Z" fill="none" stroke="#1B9E77" stroke-width="1.35" stroke-linejoin="miter"/><path d="M793.8 620L799.86 609.5L787.74 609.5Z" fill="none" stroke="#1B9E77" stroke-width="1.35" stroke-linejoin="miter"/><path d="M804.7 620L810.76 609.5L798.64 609.5Z" fill="none" stroke="#1B9E77" stroke-width="1.35" stroke-linejoin="miter"/><path d="M810 620L816.06 609.5L803.94 609.5Z" fill="none" stroke="#1B9E77" stroke-width="1.35" stroke-linejoin="miter"/><path d="M828.5 620L834.56 609.5L822.44 609.5Z" fill="none" stroke="#1B9E77" stroke-width="1.35" stroke-linejoin="miter"/><path d="M832.8 620L838.86 609.5L826.74 609.5Z" fill="none" stroke="#1B9E77" stroke-width="1.35" stroke-linejoin="miter"/><path d="M842.6 620L848.66 609.5L836.54 609.5Z" fill="none" stroke="#1B9E77" stroke-width="1.35" stroke-linejoin="miter"/><path d="M858.8 620L864.86 609.5L852.74 609.5Z" fill="none" stroke="#1B9E77" stroke-width="1.35" stroke-linejoin="miter"/><path d="M741.7 683.72L747.76 673.22L735.64 673.22Z" fill="none" stroke="#1B9E77" stroke-width="1.35" stroke-linejoin="miter"/><path d="M746.25 683.72L752.31 673.22L740.19 673.22Z" fill="none" stroke="#1B9E77" stroke-width="1.35" stroke-linejoin="miter"/><path d="M761.5 683.72L767.56 673.22L755.44 673.22Z" fill="none" stroke="#1B9E77" stroke-width="1.35" stroke-linejoin="miter"/><path d="M762.5 683.72L768.56 673.22L756.44 673.22Z" fill="none" stroke="#1B9E77" stroke-width="1.35" stroke-linejoin="miter"/><path d="M776.25 683.72L782.31 673.22L770.19 673.22Z" fill="none" stroke="#1B9E77" stroke-width="1.35" stroke-linejoin="miter"/><path d="M797.5 683.72L803.56 673.22L791.44 673.22Z" fill="none" stroke="#1B9E77" stroke-width="1.35" stroke-linejoin="miter"/><path d="M810 683.72L816.06 673.22L803.94 673.22Z" fill="none" stroke="#1B9E77" stroke-width="1.35" stroke-linejoin="miter"/><path d="M825 683.72L831.06 673.22L818.94 673.22Z" fill="none" stroke="#1B9E77" stroke-width="1.35" stroke-linejoin="miter"/><path d="M830 683.72L836.06 673.22L823.94 673.22Z" fill="none" stroke="#1B9E77" stroke-width="1.35" stroke-linejoin="miter"/><path d="M841.7 683.72L847.76 673.22L835.64 673.22Z" fill="none" stroke="#1B9E77" stroke-width="1.35" stroke-linejoin="miter"/><path d="M850.8 683.72L856.86 673.22L844.74 673.22Z" fill="none" stroke="#1B9E77" stroke-width="1.35" stroke-linejoin="miter"/><path d="M860 683.72L866.06 673.22L853.94 673.22Z" fill="none" stroke="#1B9E77" stroke-width="1.35" stroke-linejoin="miter"/><path d="M884.2 683.72L890.26 673.22L878.14 673.22Z" fill="none" stroke="#1B9E77" stroke-width="1.35" stroke-linejoin="miter"/><path d="M909.2 683.72L915.26 673.22L903.14 673.22Z" fill="none" stroke="#1B9E77" stroke-width="1.35" stroke-linejoin="miter"/><circle cx="588" cy="436" r="4.6" fill="#A6761D"/><circle cx="693.2" cy="436" r="4.6" fill="#A6761D"/><circle cx="702" cy="436" r="4.6" fill="#A6761D"/><circle cx="729.8" cy="436" r="4.6" fill="#A6761D"/><circle cx="735.3" cy="436" r="4.6" fill="#A6761D"/><circle cx="740.8" cy="436" r="4.6" fill="#A6761D"/><circle cx="766.5" cy="436" r="4.6" fill="#A6761D"/><circle cx="775.7" cy="436" r="4.6" fill="#A6761D"/><circle cx="801.3" cy="436" r="4.6" fill="#A6761D"/><circle cx="846.6" cy="436" r="4.6" fill="#A6761D"/><circle cx="768" cy="535.12" r="4.6" fill="#A6761D"/><circle cx="777.3" cy="535.12" r="4.6" fill="#A6761D"/><circle cx="788" cy="535.12" r="4.6" fill="#A6761D"/><circle cx="793.3" cy="535.12" r="4.6" fill="#A6761D"/><circle cx="806.7" cy="535.12" r="4.6" fill="#A6761D"/><circle cx="809.3" cy="535.12" r="4.6" fill="#A6761D"/><circle cx="820.7" cy="535.12" r="4.6" fill="#A6761D"/><circle cx="850.7" cy="535.12" r="4.6" fill="#A6761D"/><circle cx="864" cy="535.12" r="4.6" fill="#A6761D"/><circle cx="888" cy="535.12" r="4.6" fill="#A6761D"/><circle cx="659.5" cy="613" r="4.6" fill="#A6761D"/><circle cx="724.5" cy="613" r="4.6" fill="#A6761D"/><circle cx="773.3" cy="613" r="4.6" fill="#A6761D"/><circle cx="806.8" cy="613" r="4.6" fill="#A6761D"/><circle cx="812" cy="613" r="4.6" fill="#A6761D"/><circle cx="822" cy="613" r="4.6" fill="#A6761D"/><circle cx="836" cy="613" r="4.6" fill="#A6761D"/><circle cx="881.6" cy="613" r="4.6" fill="#A6761D"/><circle cx="738.3" cy="676.72" r="4.6" fill="#A6761D"/><circle cx="774.6" cy="676.72" r="4.6" fill="#A6761D"/><circle cx="810.8" cy="676.72" r="4.6" fill="#A6761D"/><circle cx="821.7" cy="676.72" r="4.6" fill="#A6761D"/><circle cx="826" cy="676.72" r="4.6" fill="#A6761D"/><circle cx="829" cy="676.72" r="4.6" fill="#A6761D"/><circle cx="833.3" cy="676.72" r="4.6" fill="#A6761D"/><circle cx="838" cy="676.72" r="4.6" fill="#A6761D"/><circle cx="842" cy="676.72" r="4.6" fill="#A6761D"/><circle cx="846" cy="676.72" r="4.6" fill="#A6761D"/><circle cx="850" cy="676.72" r="4.6" fill="#A6761D"/><circle cx="853" cy="676.72" r="4.6" fill="#A6761D"/><circle cx="858.3" cy="676.72" r="4.6" fill="#A6761D"/><circle cx="862" cy="676.72" r="4.6" fill="#A6761D"/><circle cx="866" cy="676.72" r="4.6" fill="#A6761D"/><circle cx="870" cy="676.72" r="4.6" fill="#A6761D"/><circle cx="873" cy="676.72" r="4.6" fill="#A6761D"/><circle cx="876.7" cy="676.72" r="4.6" fill="#A6761D"/><circle cx="910" cy="676.72" r="4.6" fill="#A6761D"/><circle cx="913.3" cy="676.72" r="4.6" fill="#A6761D"/><path d="M705.25 436L707.56 440.01L709.86 444.02L712.16 448.04L714.45 452.05L716.74 456.06L719.03 460.07L721.31 464.08L723.58 468.1L725.85 472.11L728.12 476.12L730.38 480.13L732.63 484.14L734.87 488.16L737.11 492.17L739.33 496.18L741.55 500.19L743.76 504.2L745.96 508.22L748.14 512.23L750.32 516.24L752.48 520.25L754.62 524.26L756.75 528.28L758.86 532.29L760.96 536.3L763.03 540.31L765.09 544.32L767.13 548.34L769.14 552.35L771.13 556.36L773.09 560.37L775.03 564.38L776.95 568.4L778.84 572.41L780.7 576.42L782.53 580.43L784.34 584.44L786.12 588.46L787.88 592.47L789.61 596.48L791.31 600.49L792.99 604.5L794.65 608.52L796.28 612.53L797.9 616.54L799.5 620.55L801.07 624.56L802.63 628.58L804.18 632.59L805.71 636.6L807.22 640.61L808.72 644.62L810.21 648.64L811.69 652.65L813.16 656.66L814.62 660.67L816.07 664.68L817.51 668.7L818.94 672.71L820.37 676.72L854.43 676.72L852.18 672.71L849.93 668.7L847.69 664.68L845.46 660.67L843.24 656.66L841.03 652.65L838.83 648.64L836.64 644.62L834.46 640.61L832.29 636.6L830.14 632.59L828.01 628.58L825.89 624.56L823.78 620.55L821.7 616.54L819.64 612.53L817.59 608.52L815.57 604.5L813.57 600.49L811.59 596.48L809.64 592.47L807.72 588.46L805.82 584.44L803.95 580.43L802.1 576.42L800.28 572.41L798.49 568.4L796.73 564.38L794.99 560.37L793.27 556.36L791.58 552.35L789.91 548.34L788.27 544.32L786.65 540.31L785.04 536.3L783.46 532.29L781.89 528.28L780.34 524.26L778.8 520.25L777.28 516.24L775.78 512.23L774.28 508.22L772.8 504.2L771.33 500.19L769.87 496.18L768.41 492.17L766.97 488.16L765.53 484.14L764.1 480.13L762.68 476.12L761.27 472.11L759.86 468.1L758.45 464.08L757.05 460.07L755.66 456.06L754.27 452.05L752.88 448.04L751.5 444.02L750.12 440.01L748.75 436Z" fill="#999999" fill-opacity="0.4"/><line x1="727" y1="436" x2="837.4" y2="676.72" stroke="#1B9E77" stroke-width="2.75"/><path d="M724.21 436L726.26 440.01L728.31 444.02L730.35 448.04L732.39 452.05L734.42 456.06L736.45 460.07L738.48 464.08L740.5 468.1L742.52 472.11L744.53 476.12L746.54 480.13L748.54 484.14L750.53 488.16L752.52 492.17L754.49 496.18L756.46 500.19L758.43 504.2L760.38 508.22L762.32 512.23L764.26 516.24L766.18 520.25L768.09 524.26L769.99 528.28L771.87 532.29L773.74 536.3L775.59 540.31L777.43 544.32L779.25 548.34L781.06 552.35L782.84 556.36L784.61 560.37L786.35 564.38L788.07 568.4L789.77 572.41L791.45 576.42L793.1 580.43L794.73 584.44L796.34 588.46L797.92 592.47L799.48 596.48L801.01 600.49L802.52 604.5L804 608.52L805.46 612.53L806.9 616.54L808.32 620.55L809.71 624.56L811.09 628.58L812.44 632.59L813.78 636.6L815.1 640.61L816.4 644.62L817.69 648.64L818.96 652.65L820.22 656.66L821.46 660.67L822.7 664.68L823.92 668.7L825.13 672.71L826.33 676.72L860.47 676.72L858.53 672.71L856.59 668.7L854.66 664.68L852.75 660.67L850.85 656.66L848.96 652.65L847.08 648.64L845.22 644.62L843.38 640.61L841.55 636.6L839.74 632.59L837.95 628.58L836.18 624.56L834.43 620.55L832.7 616.54L830.99 612.53L829.3 608.52L827.64 604.5L826 600.49L824.39 596.48L822.8 592.47L821.23 588.46L819.69 584.44L818.18 580.43L816.68 576.42L815.21 572.41L813.77 568.4L812.34 564.38L810.94 560.37L809.56 556.36L808.2 552.35L806.85 548.34L805.53 544.32L804.22 540.31L802.93 536.3L801.65 532.29L800.39 528.28L799.14 524.26L797.9 520.25L796.68 516.24L795.46 512.23L794.26 508.22L793.07 504.2L791.88 500.19L790.71 496.18L789.54 492.17L788.38 488.16L787.22 484.14L786.08 480.13L784.94 476.12L783.8 472.11L782.67 468.1L781.55 464.08L780.43 460.07L779.31 456.06L778.2 452.05L777.09 448.04L775.99 444.02L774.89 440.01L773.79 436Z" fill="#999999" fill-opacity="0.4"/><line x1="749" y1="436" x2="843.4" y2="676.72" stroke="#A6761D" stroke-width="2.75"/><line x1="797" y1="424.2" x2="797" y2="688.8" stroke="#000" stroke-width="1.5" stroke-dasharray="7 7.1" stroke-dashoffset="9.7"/><path d="M572 424.2V688.8H928.7" fill="none" stroke="#000" stroke-width="1.65"/><line x1="565.5" y1="436" x2="572" y2="436" stroke="#000" stroke-width="1.65"/><text x="561.9" y="443.5" text-anchor="end" style="letter-spacing:0.6px">2.0</text><line x1="565.5" y1="506.8" x2="572" y2="506.8" stroke="#000" stroke-width="1.65"/><text x="561.9" y="514.3" text-anchor="end" style="letter-spacing:0.6px">1.5</text><line x1="565.5" y1="577.6" x2="572" y2="577.6" stroke="#000" stroke-width="1.65"/><text x="561.9" y="585.1" text-anchor="end" style="letter-spacing:0.6px">1.0</text><line x1="565.5" y1="648.4" x2="572" y2="648.4" stroke="#000" stroke-width="1.65"/><text x="561.9" y="655.9" text-anchor="end" style="letter-spacing:0.6px">0.5</text><line x1="589.8" y1="688.8" x2="589.8" y2="695.3" stroke="#000" stroke-width="1.65"/><text x="588.15" y="717" text-anchor="middle">−50</text><line x1="693.4" y1="688.8" x2="693.4" y2="695.3" stroke="#000" stroke-width="1.65"/><text x="689.9" y="717" text-anchor="middle">−25</text><line x1="797" y1="688.8" x2="797" y2="695.3" stroke="#000" stroke-width="1.65"/><text x="795.8" y="717" text-anchor="middle">0</text><line x1="900.6" y1="688.8" x2="900.6" y2="695.3" stroke="#000" stroke-width="1.65"/><text x="901.35" y="717" text-anchor="middle">25</text><text x="640.1" y="750">CH<tspan font-size="14.2" dy="6.6">4</tspan><tspan dy="-6.6"> flux (µg CH</tspan><tspan font-size="14.2" dy="6.6">4</tspan><tspan dy="-6.6"> m</tspan><tspan font-size="13.9" dy="-7">−2</tspan><tspan dy="7"> h</tspan><tspan font-size="13.9" dy="-7">−1</tspan><tspan dy="7">)</tspan></text><text transform="translate(507.6 556.9) rotate(-90)" text-anchor="middle" style="font-size:19.8px">Stem sampling height (m)</text><text x="762.3" y="411.7" text-anchor="middle" style="letter-spacing:0.12px">Wytham (United Kingdom)</text><text x="966" y="196.7" style="letter-spacing:0.08px">Species</text><line x1="970.8" y1="232.8" x2="1003.3" y2="232.8" stroke="#1B9E77" stroke-width="3"/><path d="M987 240L993.24 229.2L980.76 229.2Z" fill="none" stroke="#1B9E77" stroke-width="1.35" stroke-linejoin="miter"/><text x="1013.6" y="240" style="font-style:italic">Fraxinus excelsior</text><line x1="970.8" y1="273.37" x2="1003.3" y2="273.37" stroke="#D95F02" stroke-width="3"/><path d="M987 266.37L993.32 277.32L980.68 277.32Z" fill="#D95F02"/><text x="1013.6" y="280.57" style="font-style:italic">Heisteria concinna</text><line x1="970.8" y1="313.94" x2="1003.3" y2="313.94" stroke="#A6761D" stroke-width="3"/><circle cx="987" cy="313.94" r="4.6" fill="#A6761D"/><text x="1013.6" y="321.14" style="font-style:italic">Acer pseudoplatanus</text><line x1="970.8" y1="354.51" x2="1003.3" y2="354.51" stroke="#E7298A" stroke-width="3"/><rect x="982.45" y="349.96" width="9.1" height="9.1" fill="#E7298A"/><text x="1013.6" y="361.71" style="font-style:italic">Pinus sylvestris</text><line x1="970.8" y1="395.08" x2="1003.3" y2="395.08" stroke="#66A61E" stroke-width="3"/><path d="M982.2 390.28L991.8 399.88M982.2 399.88L991.8 390.28" stroke="#66A61E" stroke-width="1.5" fill="none"/><text x="1013.6" y="402.28" style="font-style:italic">Picea abies</text><line x1="970.8" y1="435.65" x2="1003.3" y2="435.65" stroke="#E6AB02" stroke-width="3"/><path d="M979.8 435.65L994.2 435.65M987 428.45L987 442.85M981.91 430.56L992.09 440.74M981.91 440.74L992.09 430.56" stroke="#E6AB02" stroke-width="1.5" fill="none"/><text x="1013.6" y="442.85" style="font-style:italic">Simarouba amara</text><line x1="970.8" y1="476.22" x2="1003.3" y2="476.22" stroke="#7570B3" stroke-width="3"/><circle cx="987" cy="476.22" r="4.6" fill="#7570B3"/><text x="1013.4" y="483.42" style="letter-spacing:0.4px">Multiple sp.</text>
</g>
</svg></body></html>
